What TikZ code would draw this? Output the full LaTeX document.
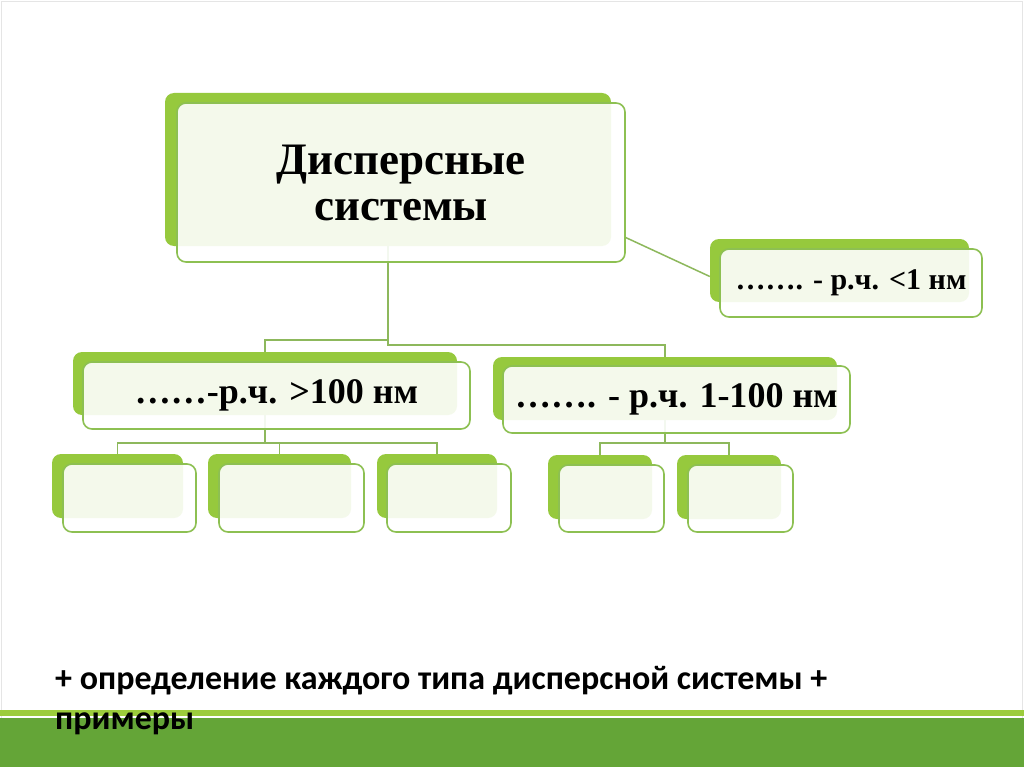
\documentclass[tikz,border=0pt]{standalone}
\usepackage{fontspec}
\setmainfont{Liberation Serif}
\newfontfamily\notefont{Carlito}
\definecolor{leaf}{HTML}{96C93D}
\definecolor{rim}{HTML}{8DC052}
\definecolor{stem}{HTML}{8DB85C}
\definecolor{barlight}{HTML}{9CCC3C}
\definecolor{bardark}{HTML}{64A537}

\begin{document}
\begin{tikzpicture}[x=1pt, y=-1pt,
  backbox/.style={fill=leaf, rounded corners=9pt, inner sep=0pt},
  frontbox/.style={draw=rim, line width=1.6pt, fill=white, fill opacity=0.9, text opacity=1,
    rounded corners=9pt, inner sep=0pt, align=center, font=\bfseries},
  link/.style={draw=stem, line width=1.5pt}]
  % slide background and footer bar
  \useasboundingbox (0,0) rectangle (1024,767);
  \fill[white] (0,0) rectangle (1024,767);
  \draw[black!10, line width=1pt] (1.5,1.5) rectangle (1022.5,765.5);
  \fill[barlight] (0,710) rectangle (1024,716);
  \fill[bardark] (0,718) rectangle (1024,767);
  % back plates (green) of the hierarchy
  \node[backbox, minimum width=446, minimum height=153] (topb) at (388,169.5) {};
  \node[backbox, minimum width=259, minimum height=63]  (smb)  at (839.5,270.5) {};
  \node[backbox, minimum width=384, minimum height=63]  (lb)   at (265,383.5) {};
  \node[backbox, minimum width=344, minimum height=63]  (rb)   at (665,388.5) {};
  \node[backbox, minimum width=131, minimum height=64]  (l1b)  at (117.5,486) {};
  \node[backbox, minimum width=143, minimum height=64]  (l2b)  at (279.5,486) {};
  \node[backbox, minimum width=120, minimum height=64]  (l3b)  at (437,486) {};
  \node[backbox, minimum width=104, minimum height=64]  (r1b)  at (600,487) {};
  \node[backbox, minimum width=104, minimum height=64]  (r2b)  at (729,487) {};
  % connectors
  \draw[link] (topb.south) -- ++(0,94) -| (lb.north);
  \draw[link] (topb.south) -- ++(0,99) -| (rb.north);
  \draw[link] (lb.south) -- ++(0,28) -| (l1b.north);
  \draw[link] (lb.south) -- ++(0,28) -| (l2b.north);
  \draw[link] (lb.south) -- ++(0,28) -| (l3b.north);
  \draw[link] (rb.south) -- ++(0,23) -| (r1b.north);
  \draw[link] (rb.south) -- ++(0,23) -| (r2b.north);
  \draw[link] ([yshift=9pt]topb.south east -| 625,0) -- ([yshift=-6pt]smb.west);
  % front cards with the texts
  \node[frontbox, minimum width=448, minimum height=159, font=\bfseries\fontsize{45}{46}\selectfont]
    (top) at (401,182.5) {Дисперсные\\системы};
  \node[frontbox, minimum width=262, minimum height=68, font=\bfseries\fontsize{30}{34}\selectfont]
    (sm) at (851,283) {……. - р.ч. <1 нм};
  \node[frontbox, minimum width=387, minimum height=67, font=\bfseries\fontsize{36}{40}\selectfont]
    (left) at (276.5,395.5) {……-р.ч. >100 нм};
  \node[frontbox, minimum width=347, minimum height=67, font=\bfseries\fontsize{36}{40}\selectfont]
    (right) at (676.5,399.5) {……. - р.ч. 1-100 нм};
  \node[frontbox, minimum width=133, minimum height=68] (l1) at (129.5,498) {};
  \node[frontbox, minimum width=145, minimum height=68] (l2) at (291.5,498) {};
  \node[frontbox, minimum width=124, minimum height=68] (l3) at (449,498) {};
  \node[frontbox, minimum width=105, minimum height=67] (r1) at (611.5,498.5) {};
  \node[frontbox, minimum width=105, minimum height=67] (r2) at (740.5,498.5) {};
  % note below the diagram (base is the last line)
  \node[anchor=base west, align=left, inner sep=0pt, font=\notefont\bfseries\fontsize{34}{40}\selectfont]
    (note) at (55,729) {+ определение каждого типа дисперсной системы +\\примеры};
\end{tikzpicture}
\end{document}
